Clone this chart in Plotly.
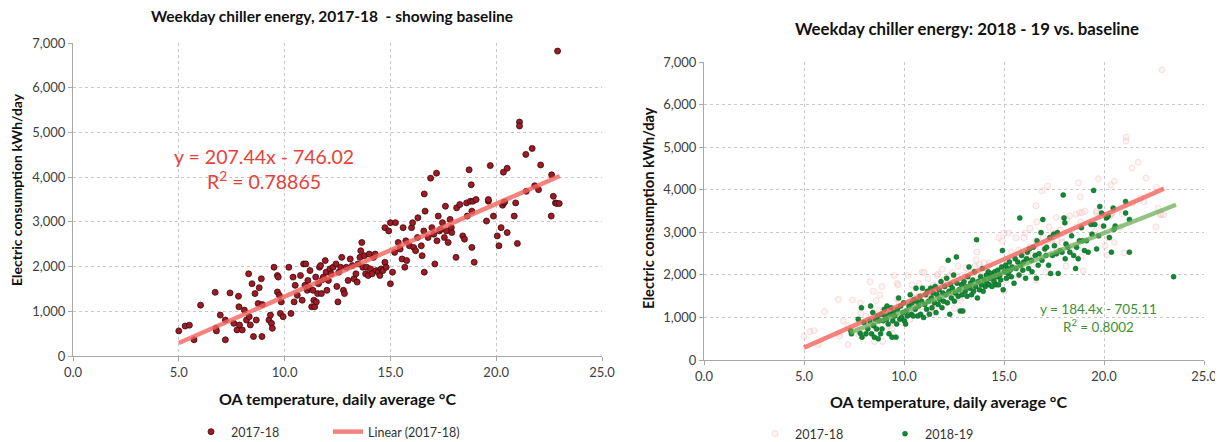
import plotly.graph_objects as go

# ---------------- data ----------------
# 2017-18 weekday chiller energy (OA temp degC, kWh/day)
temp_1718 = [5.0, 5.3, 5.5, 5.72, 6.03, 6.72, 6.75, 6.78, 6.96, 7.2, 7.2, 7.42, 7.6, 7.75, 7.82, 7.84, 7.87,
             8.0, 8.1, 8.2, 8.3, 8.33, 8.38, 8.46, 8.53, 8.6, 8.66, 8.75, 8.8, 8.9, 8.93, 8.95, 9.26, 9.33,
             9.38, 9.42, 9.5, 9.66, 9.66, 9.7, 9.75, 9.8, 9.84, 9.93, 10.2, 10.3, 10.4, 10.45, 10.5, 10.6,
             10.75, 10.83, 10.9, 10.96, 11.0, 11.07, 11.1, 11.16, 11.2, 11.28, 11.34, 11.38, 11.42, 11.47,
             11.5, 11.56, 11.6, 11.65, 11.7, 11.74, 11.78, 11.83, 11.92, 11.96, 12.0, 12.07, 12.14, 12.2,
             12.29, 12.43, 12.47, 12.52, 12.56, 12.65, 12.7, 12.78, 12.83, 12.92, 13.0, 13.1, 13.2, 13.28,
             13.37, 13.43, 13.47, 13.56, 13.6, 13.65, 13.7, 13.77, 13.83, 13.88, 13.95, 14.0, 14.06, 14.14,
             14.21, 14.28, 14.34, 14.43, 14.5, 14.56, 14.65, 14.74, 14.8, 14.74, 14.92, 15.0, 15.0, 15.1,
             15.2, 15.24, 15.37, 15.46, 15.55, 15.6, 15.68, 15.73, 15.77, 15.9, 16.0, 16.05, 16.1, 16.19,
             16.28, 16.3, 16.46, 16.5, 16.58, 16.64, 16.6, 16.6, 16.78, 16.9, 16.96, 17.05, 17.1, 17.18,
             17.2, 17.26, 17.32, 17.37, 17.46, 17.55, 17.6, 17.65, 17.73, 17.82, 17.88, 17.9, 18.1, 18.13,
             18.28, 18.42, 18.5, 18.6, 18.63, 18.72, 18.78, 18.82, 18.85, 18.85, 18.9, 18.96, 19.05, 19.54,
             19.63, 19.63, 19.72, 19.87, 20.05, 20.13, 20.23, 20.3, 20.36, 20.34, 20.4, 20.52, 20.52, 20.85,
             20.92, 21.0, 21.1, 21.1, 21.4, 21.42, 21.7, 21.82, 22.0, 22.1, 22.6, 22.62, 22.7, 22.8, 22.9,
             22.86, 22.98]
kwh_1718 = [561, 670, 690, 362, 1137, 1424, 620, 560, 915, 362, 804, 1410, 730, 583, 1336, 1100, 694,
            583, 1026, 804, 1838, 878, 694, 1616, 435, 1395, 804, 1173, 1528, 1727, 435, 1151, 804, 915,
            730, 620, 1985, 1800, 1432, 1764, 1358, 952, 1210, 878, 1985, 952, 1764, 1210, 1580, 1358,
            1800, 1247, 2059, 1580, 2059, 1469, 1690, 1528, 1911, 1100, 1469, 1247, 1100, 1764,
            1210, 1395, 1616, 1985, 2022, 1395, 1705, 1764, 2133, 1875, 1469, 1690, 1948, 1838,
            1985, 2059, 1557, 1210, 1875, 1985, 2206, 1469, 1395, 1985, 1690, 2170, 2022, 1727,
            1838, 1653, 2059, 2206, 2354, 2539, 1985, 2243, 1838, 1985, 1800, 2280, 1948, 1838,
            2206, 2280, 1911, 1875, 1800, 1948, 1911, 2096, 1985, 2871, 2797, 2982, 1616, 1875,
            2317, 2982, 2539, 2391, 2170, 2871, 1985, 2576, 2133, 2465, 2871, 2982, 2428, 2354,
            2650, 3092, 2465, 2243, 2797, 3240, 3624, 1875, 2650, 3978, 2871, 2723, 2059, 4089,
            2576, 3129, 2797, 2834, 2982, 2650, 3350, 2797, 2539, 3055, 2871, 2760, 2206, 3313,
            3387, 2686, 2613, 3424, 3129, 4163, 3461, 3830, 3240, 2428, 3461, 2096, 3498, 3018,
            3461, 3498, 4258, 3129, 2686, 2465, 2871, 3372, 3424, 4111, 3446, 4199, 2760, 3129,
            3424, 2517, 5232, 5144, 4509, 3683, 4642, 3808, 3720, 4273, 3129, 4052, 3572, 3424, 6819,
            3410, 3410]

# 2018-19 weekday chiller energy
temp_1819 = [7.33, 7.37, 7.71, 7.81, 7.87, 7.9, 8.0, 8.1, 8.19, 8.29, 8.33, 8.38, 8.44, 8.48, 8.52, 8.58,
             8.63, 8.67, 8.71, 8.77, 8.83, 8.87, 8.9, 8.96, 9.02, 9.06, 9.12, 9.15, 9.21, 9.25, 9.29, 9.35,
             9.4, 9.44, 9.48, 9.54, 9.6, 9.63, 9.67, 9.73, 9.79, 9.83, 9.88, 9.94, 9.98, 10.02, 10.08,
             10.12, 10.17, 10.25, 10.31, 10.37, 10.4, 10.46, 10.5, 10.56, 10.6, 10.63, 10.69, 10.73,
             10.79, 10.83, 10.88, 10.92, 10.98, 11.04, 11.08, 11.13, 11.17, 11.23, 11.27, 11.33, 11.37,
             11.4, 11.46, 11.52, 11.56, 11.6, 11.65, 11.71, 11.75, 11.79, 11.85, 11.9, 11.94, 11.98,
             12.04, 12.1, 12.13, 12.17, 12.21, 12.25, 12.29, 12.33, 12.37, 12.42, 12.48, 12.52, 12.56,
             12.62, 12.65, 12.71, 12.75, 12.81, 12.87, 12.9, 12.94, 13.0, 13.06, 13.1, 13.15, 13.19,
             13.25, 13.29, 13.33, 13.38, 13.44, 13.48, 13.52, 13.58, 13.63, 13.67, 13.71, 13.77, 13.83,
             13.87, 13.92, 13.96, 14.02, 14.06, 14.12, 14.15, 14.21, 14.25, 14.31, 14.35, 14.4, 14.44,
             14.5, 14.54, 14.6, 14.63, 14.69, 14.73, 14.79, 14.83, 14.88, 14.92, 14.96, 15.02, 15.08,
             15.12, 15.17, 15.21, 15.27, 15.31, 15.37, 15.4, 15.5, 15.56, 15.6, 15.69, 15.75, 15.79,
             15.83, 15.88, 15.94, 15.98, 16.08, 16.13, 16.17, 16.23, 16.27, 16.37, 16.4, 16.46, 16.56,
             16.62, 16.65, 16.71, 16.75, 16.85, 16.9, 16.94, 17.04, 17.1, 17.13, 17.23, 17.29, 17.33,
             17.42, 17.48, 17.52, 17.62, 17.67, 17.71, 17.81, 17.9, 17.96, 18.0, 18.04, 18.06, 18.1,
             18.19, 18.29, 18.38, 18.48, 18.58, 18.63, 18.71, 18.77, 18.87, 18.92, 19.02, 19.12, 19.21,
             19.35, 19.4, 19.48, 19.54, 19.63, 19.73, 19.79, 19.88, 19.98, 20.12, 20.21, 20.27, 20.37,
             20.46, 20.5, 20.56, 21.08, 21.08, 21.27, 21.27, 23.48]
kwh_1819 = [691, 614, 959, 629, 1228, 537, 883, 614, 729, 921, 1266, 614, 1113, 806, 537, 959,
            729, 1036, 499, 921, 614, 1074, 729, 921, 1190, 1036, 959, 1266, 844, 614, 1074, 1228,
            537, 921, 1113, 1036, 537, 844, 1190, 1458, 959, 1266, 998, 1113, 1343, 921, 844,
            1151, 1036, 1266, 1535, 1074, 1343, 1036, 1420, 1190, 1688, 1381, 1036, 1266,
            1497, 1074, 1381, 1688, 998, 1305, 1535, 1190, 1612, 1381, 1074, 1688, 1458,
            1228, 1573, 1343, 1727, 1113, 1535, 1305, 1650, 1420, 1842, 1228, 1573, 1381,
            1727, 1535, 1919, 1343, 2341, 1612, 1074, 1765, 1458, 1688, 1995, 1381, 1573,
            2418, 1804, 1497, 1650, 1151, 1765, 1535, 1151, 1842, 1612, 1727, 1497, 1957,
            2187, 1688, 1804, 1535, 1880, 1612, 2072, 1727, 2824, 1458, 1842, 1650, 1957,
            1765, 2149, 1612, 1880, 1727, 1995, 1804, 2072, 1765, 1919, 2034, 1727, 1957,
            1842, 2072, 1765, 1957, 2111, 1765, 1995, 1880, 2187, 2571, 1650, 2072, 2226,
            1919, 2149, 2034, 2302, 2111, 1957, 2187, 1804, 2379, 2149, 2302, 1995, 3338,
            2226, 2456, 2111, 2302, 1919, 2379, 2533, 2149, 2609, 2341, 2072, 2648, 2456,
            1919, 2801, 2226, 2494, 2993, 2341, 3300, 2609, 2456, 2648, 2226, 2878, 2034,
            2456, 2955, 2686, 2494, 2993, 2034, 2571, 2533, 3876, 3338, 3223, 2379, 2724,
            2648, 2533, 2916, 2456, 2149, 2648, 2379, 2801, 3108, 2801, 2571, 2801, 2533,
            3185, 2955, 3984, 3185, 2609, 2916, 3607, 3453, 3147, 3338, 3377, 2878, 2533,
            3568, 3070, 3147, 3722, 3453, 3300, 2533, 1957]

# Linear trendlines as reported on the chart
slope_1718, intercept_1718 = 207.44, -746.02
trend_x_1718 = [5.0, 23.0]
slope_1819, intercept_1819 = 184.4, -705.11
trend_x_1819 = [7.3, 23.6]

x_ticks = [0, 5, 10, 15, 20, 25]
y_ticks = [0, 1000, 2000, 3000, 4000, 5000, 6000, 7000]

trend_y_1718 = [slope_1718 * v + intercept_1718 for v in trend_x_1718]
trend_y_1819 = [slope_1819 * v + intercept_1819 for v in trend_x_1819]

FONT = "Lato"
RED_PT = "#9e1a24"
RED_LINE = "rgba(242,100,92,0.80)"
GREEN_PT = "#118a35"
GREEN_LINE = "rgba(110,175,90,0.75)"

fig = go.Figure()

# ---- left panel ----
fig.add_trace(go.Scatter(
    x=temp_1718, y=kwh_1718, mode="markers", name="2017-18",
    marker=dict(size=6, color=RED_PT, line=dict(color="#3a0a0c", width=0.8)),
    xaxis="x", yaxis="y", legend="legend"))
fig.add_trace(go.Scatter(
    x=trend_x_1718, y=trend_y_1718, mode="lines", name="Linear (2017-18)",
    line=dict(color=RED_LINE, width=4.5),
    xaxis="x", yaxis="y", legend="legend"))

# ---- right panel ----
fig.add_trace(go.Scatter(
    x=temp_1718, y=kwh_1718, mode="markers", name="2017-18",
    marker=dict(size=6, color="rgba(250,220,220,0.30)", line=dict(color="rgba(235,160,160,0.30)", width=1)),
    xaxis="x2", yaxis="y2", legend="legend2"))
fig.add_trace(go.Scatter(
    x=temp_1819, y=kwh_1819, mode="markers", name="2018-19",
    marker=dict(size=5, color=GREEN_PT, symbol="circle", line=dict(color="#0b5e22", width=0.5)),
    xaxis="x2", yaxis="y2", legend="legend2"))
fig.add_trace(go.Scatter(
    x=trend_x_1718, y=trend_y_1718, mode="lines", showlegend=False,
    line=dict(color=RED_LINE, width=4.5), xaxis="x2", yaxis="y2"))
fig.add_trace(go.Scatter(
    x=trend_x_1819, y=trend_y_1819, mode="lines", showlegend=False,
    line=dict(color=GREEN_LINE, width=4.5), xaxis="x2", yaxis="y2"))

# The page body has the browser's default 8px margin: size the figure so it
# ends at the window edge and express positions in window pixels.
PAGE_OFF = 8
W, H = 1223 - PAGE_OFF, 442 - PAGE_OFF


def px_x(p):
    return (p - PAGE_OFF) / W


def px_y(p):
    return 1 - (p - PAGE_OFF) / H


axis_common = dict(
    showgrid=True, gridcolor="#c8c8c8", griddash="dot", gridwidth=1,
    showline=True, linecolor="#a8a8a8", linewidth=1,
    ticks="outside", ticklen=4, tickcolor="#a8a8a8",
    tickfont=dict(family=FONT, size=13, color="#404040"),
    zeroline=False, automargin=False, ticklabeloverflow="allow",
)
xfmt = dict(range=[0, 25], tickvals=x_ticks, tickformat=".1f")
yfmt = dict(range=[0, 7000], tickvals=y_ticks, tickformat=",d")


def note(text, x, y, size, color="#111", angle=0, xanchor="center"):
    return dict(text=text, xref="paper", yref="paper", x=px_x(x), y=px_y(y),
                xanchor=xanchor, yanchor="middle", showarrow=False, align="center",
                textangle=angle, font=dict(family=FONT, size=size, color=color))


fig.update_layout(
    width=W, height=H,
    margin=dict(l=0, r=0, t=0, b=0, autoexpand=False),
    paper_bgcolor="white", plot_bgcolor="white",
    font=dict(family=FONT, color="#222"),
    xaxis=dict(domain=[px_x(73), px_x(602)], anchor="y", **xfmt, **axis_common),
    yaxis=dict(domain=[px_y(356), px_y(43)], anchor="x", **yfmt, **axis_common),
    xaxis2=dict(domain=[px_x(704), px_x(1204)], anchor="y2", **xfmt, **axis_common),
    yaxis2=dict(domain=[px_y(360), px_y(62)], anchor="x2", **yfmt, **axis_common),
    legend=dict(orientation="h", x=px_x(191), xanchor="left", y=px_y(432), yanchor="middle",
                font=dict(family=FONT, size=12.5, color="#333"), itemwidth=30,
                entrywidth=92, entrywidthmode="pixels", bgcolor="rgba(0,0,0,0)"),
    legend2=dict(orientation="h", x=px_x(755), xanchor="left", y=px_y(434), yanchor="middle",
                 font=dict(family=FONT, size=12.5, color="#333"), itemwidth=30,
                 entrywidth=85, entrywidthmode="pixels", bgcolor="rgba(0,0,0,0)"),
    annotations=[
        note("<b>Weekday chiller energy, 2017-18  - showing baseline</b>", 332, 16, 15.5),
        note("<b>Weekday chiller energy: 2018 - 19 vs. baseline</b>", 967, 28, 16.8),
        note("<b>OA temperature, daily average °C</b>", 337, 398, 16),
        note("<b>OA temperature, daily average °C</b>", 948, 401, 16),
        note("<b>Electric consumption kWh/day</b>", 16, 190, 14, angle=-90),
        note("<b>Electric consumption kWh/day</b>", 648, 208, 14.7, angle=-90),
        note("y = 207.44x - 746.02<br>R<sup>2</sup> = 0.78865", 264, 169, 19.5, color="#e8403a"),
        note("y = 184.4x - 705.11<br>R<sup>2</sup> = 0.8002", 1098, 318, 13.5, color="#3f8f35"),
    ],
)

fig.write_html("out.html")
